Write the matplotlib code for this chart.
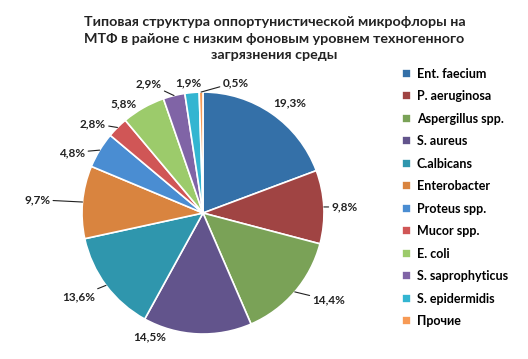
import numpy as np
import matplotlib
matplotlib.use("Agg")
import matplotlib.pyplot as plt

plt.rcParams['font.family'] = ['Lato', 'Noto Sans', 'DejaVu Sans']

title = ("Типовая структура оппортунистической микрофлоры на\n"
         "МТФ в районе с низким фоновым уровнем техногенного\n"
         "загрязнения среды")

species = ["Ent. faecium", "P. aeruginosa", "Aspergillus spp.", "S. aureus",
           "C.albicans", "Enterobacter", "Proteus spp.", "Mucor spp.",
           "E. coli", "S. saprophyticus", "S. epidermidis", "Прочие"]
shares = [19.3, 9.8, 14.4, 14.5, 13.6, 9.7, 4.8, 2.8, 5.8, 2.9, 1.9, 0.5]

colors = ["#3470a8", "#a04443", "#7aa257", "#62548c", "#2f96ad", "#d9843f",
          "#4a8dd2", "#d05656", "#9ccb6b", "#8064a6", "#33b5d1", "#f79a55"]

# label placement (pie radius = 1) and whether a leader line is drawn
label_pos = [(0.72, 0.91), (1.17, 0.05), (1.04, -0.72), (-0.44, -1.02),
             (-1.03, -0.69), (-1.37, 0.11), (-1.08, 0.50), (-0.91, 0.74),
             (-0.66, 0.90), (-0.45, 1.07), (-0.12, 1.08), (0.27, 1.08)]
leader = [False, True, True, False, True, True, True, True,
          False, True, False, True]

fig = plt.figure(figsize=(5.28, 3.59), dpi=100)
ax = fig.add_axes([0.1553, 0.0696, 0.4583, 0.674])

wedges, _ = ax.pie(shares, colors=colors, startangle=90, counterclock=False,
                   wedgeprops=dict(edgecolor="white", linewidth=1.2))
ax.set_xlim(-1, 1)
ax.set_ylim(-1, 1)
ax.set_aspect("equal")

for w, v, pos, ln in zip(wedges, shares, label_pos, leader):
    ang = np.deg2rad((w.theta1 + w.theta2) / 2)
    edge = (np.cos(ang), np.sin(ang))
    txt = f"{v:.1f}%".replace(".", ",")
    if ln:
        ax.annotate(txt, xy=edge, xytext=pos, ha="center", va="center",
                    fontsize=8.5, fontweight="bold", color="#222222",
                    arrowprops=dict(arrowstyle="-", color="#222222", lw=0.8,
                                    shrinkA=0, shrinkB=0))
    else:
        ax.text(pos[0], pos[1], txt, ha="center", va="center",
                fontsize=8.5, fontweight="bold", color="#222222")

fig.text(0.52, 0.955, title, ha="center", va="top", fontsize=10.3,
         fontweight="bold", linespacing=1.45, color="#222222")

fig.legend(wedges, species, loc="upper left", bbox_to_anchor=(0.74, 0.843),
           frameon=False, handlelength=0.7, handleheight=0.7,
           handletextpad=0.5, labelspacing=0.84,
           prop=dict(size=9, weight="bold"))

fig.savefig("out.png", dpi=100)
